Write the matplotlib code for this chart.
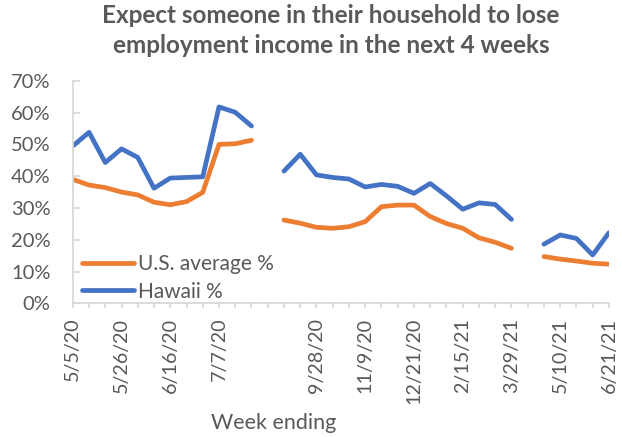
import numpy as np
import matplotlib
matplotlib.use("Agg")
import matplotlib.pyplot as plt

plt.rcParams["font.family"] = ["Lato", "DejaVu Sans"]

# category labels (one per survey week; blanks mark breaks between phases)
weeks = [
    "5/5/20", "5/12/20", "5/19/20", "5/26/20", "6/2/20", "6/9/20", "6/16/20",
    "6/23/20", "6/30/20", "7/7/20", "7/14/20", "7/21/20", "",
    "8/31/20", "9/14/20", "9/28/20", "10/12/20", "10/26/20", "11/9/20",
    "11/23/20", "12/7/20", "12/21/20", "1/18/21", "2/1/21", "2/15/21",
    "3/1/21", "3/15/21", "3/29/21", "",
    "4/26/21", "5/10/21", "5/24/21", "6/7/21", "6/21/21",
]
nan = np.nan
us_avg = [
    39.0, 37.2, 36.4, 35.0, 34.1, 31.8, 31.0, 32.0, 34.9, 50.0, 50.2, 51.3, nan,
    26.2, 25.2, 23.9, 23.6, 24.1, 25.7, 30.4, 30.9, 30.9, 27.3, 25.1, 23.6,
    20.6, 19.2, 17.3, nan,
    14.7, 13.9, 13.3, 12.6, 12.3,
]
hawaii = [
    49.5, 53.8, 44.3, 48.6, 45.9, 36.2, 39.4, 39.6, 39.8, 61.8, 60.1, 55.8, nan,
    41.6, 46.9, 40.4, 39.6, 39.1, 36.6, 37.4, 36.8, 34.6, 37.7, 33.8, 29.6,
    31.6, 31.1, 26.4, nan,
    18.6, 21.5, 20.4, 15.2, 22.2,
]

grey = "#595959"
axis_grey = "#d9d9d9"

fig = plt.figure(figsize=(6.22, 4.37), dpi=100)
ax = fig.add_axes([0.117, 0.306, 0.862, 0.509])

x = np.arange(len(weeks))
ax.plot(x, np.array(us_avg) / 100, color="#ED7D31", linewidth=3.4,
        solid_capstyle="round", label="U.S. average %")
ax.plot(x, np.array(hawaii) / 100, color="#4472C4", linewidth=3.4,
        solid_capstyle="round", label="Hawaii %")

ax.set_xlim(0, len(weeks) - 1)
ax.set_ylim(0, 0.7)
yt = np.arange(0, 0.71, 0.1)
ax.set_yticks(yt)
ax.set_yticklabels([f"{int(round(v * 100))}%" for v in yt])

ax.set_xticks(x, minor=True)
major = x[::3]
ax.set_xticks(major)
ax.set_xticklabels([weeks[i] for i in major], rotation=90)

for side in ("top", "right"):
    ax.spines[side].set_visible(False)
for side in ("left", "bottom"):
    ax.spines[side].set_color(axis_grey)
    ax.spines[side].set_linewidth(1.3)

ax.tick_params(axis="y", direction="in", length=5, width=1.3, color=axis_grey,
               labelsize=14.5, labelcolor=grey, pad=16)
ax.tick_params(axis="x", which="both", direction="out", length=3.5, width=1.3,
               color=axis_grey, labelsize=14.2, labelcolor=grey, pad=7)

fig.text(0.440, 0.033, "Week ending", fontsize=15.5, color=grey,
         ha="center", va="center")

fig.suptitle("Expect someone in their household to lose\nemployment income in the next 4 weeks",
             x=0.532, y=0.99, fontsize=17.5, fontweight="bold", color=grey,
             linespacing=1.33)

ax.legend(loc="lower left", bbox_to_anchor=(0.0, -0.035), frameon=False,
          fontsize=15, handlelength=2.5, handletextpad=0.2, labelspacing=0.35,
          labelcolor=grey, borderaxespad=0.25, borderpad=0.2)

fig.savefig("out.png", dpi=100)
